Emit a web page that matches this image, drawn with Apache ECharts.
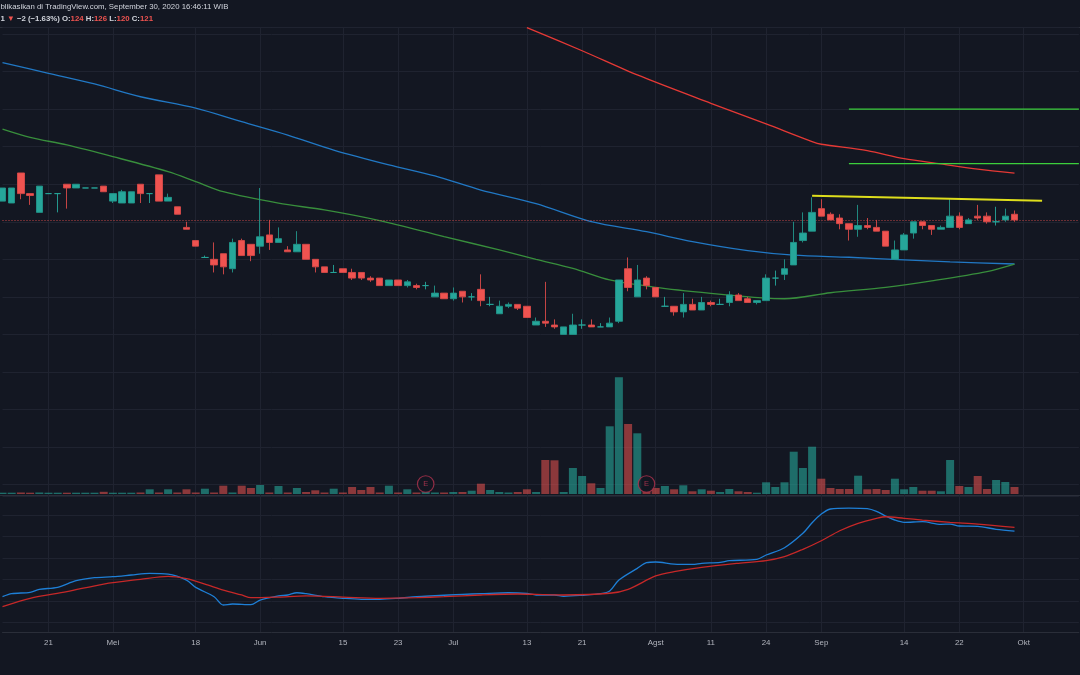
<!DOCTYPE html>
<html><head><meta charset="utf-8">
<script src="https://cdn.jsdelivr.net/npm/echarts@6/dist/echarts.min.js"></script>
<style>html,body{margin:0;padding:0;background:#131722;}#c{width:1080px;height:675px;}</style>
</head><body><div id="c"></div>
<script>
// ---- data ----
const opens  = [131,130,146,135,125,135,135,140,138,138,138,139,131,130,130,140,135,145,131,128,117,110,101,100,103,95,110,108,107,113,109,105,104,108,100,96,93,95,93,93,90,90,86,89,86,86,86,80,82,79,83,80,84,76,71,75,76,75,65,67,65,60,60,65,65,64,64,67,95,80,90,85,75,75,72,76,73,77,76,77,81,79,77,78,90,92,97,110,115,127,124,122,119,116,118,117,115,100,105,114,120,118,116,117,123,119,123,123,120,121,124];
const closes = [138,138,135,134,139,135,135,138,140,138,138,136,135,136,136,135,135,131,133,124,116,107,101,97,96,109,102,102,112,109,111,104,108,100,96,93,93,93,90,90,89,86,89,86,88,85,86,82,79,82,80,80,78,76,75,76,74,69,67,66,64,64,65,65,64,64,66,89,85,89,86,80,75,72,76,73,77,76,76,81,78,77,78,90,90,95,109,114,125,123,121,119,116,118,117,115,107,105,113,120,118,116,117,123,117,121,122,120,120,123,121];
const lows   = [131,130,132,129,125,135,125,127,138,138,138,136,130,130,130,130,130,131,131,124,116,107,101,93,92,93,102,99,103,105,109,104,104,100,93,93,93,93,89,89,88,86,86,86,85,84,84,80,79,78,77,78,75,75,71,74,73,69,65,64,63,60,60,63,64,64,64,66,83,80,84,80,75,70,69,73,73,75,76,75,78,77,76,78,86,89,97,109,115,123,121,116,110,112,116,115,107,100,105,111,116,113,116,117,116,119,121,119,118,120,120];
const highs  = [138,138,146,135,139,135,135,140,140,138,138,139,135,137,136,140,135,145,135,128,120,110,102,109,103,111,111,108,138,121,117,107,115,108,100,96,97,95,95,93,91,90,89,89,89,87,88,86,82,85,83,82,92,80,78,77,76,75,69,88,68,64,71,68,68,66,69,89,101,97,91,85,80,75,82,79,80,78,79,83,82,80,78,92,94,100,120,125,133,132,125,124,119,129,122,121,115,110,114,120,120,118,118,132,125,122,129,125,128,127,126];
const volumes = [1.3,1.3,1.5,1.3,1.5,1.3,1.3,1.3,1.3,1.3,1.3,2.2,1.3,1.3,1.3,1.5,
  4.7,1.5,4.7,1.5,4.7,1.5,5.3,1.5,8.3,1.5,8.3,6,9,1.5,
  8,1.5,6,2,3.7,1.5,5.3,1.5,7,4,
  7,1.5,8.3,1.5,4.7,1.5,2,1.5,1.5,2,
  2,3.3,10.3,4,2,1.5,2,4.7,2,34,
  33.7,2,26,18,10.7,6,67.7,116.7,70,60.7,
  2.5,6,8,4.7,8.7,2.7,4.7,3.3,2,5,
  2.7,2,1.3,11.7,7,11.7,42.3,26,47.3,15.3,
  6,5,5,18.3,4.7,5,4,15.3,4.7,7,
  3.3,3.3,2.7,34,8,7,18,5,14,12,7];
const maBlue  = [[0,204.8],[5,199.1],[10,193.4],[15,186.6],[21,180.5],[26,173.3],[31,166.2],[36,158.2],[42,150.3],[47,144.4],[52,136.9],[58,129.7],[64,120.1],[70,114.7],[75,109.4],[81,104.6],[86,102.2],[92,101.1],[98,99.7],[103,98.6],[110,97.5]];
const maGreen = [[0,169.4],[3,165.0],[7,160.9],[12,154.7],[18,146.7],[21,141.4],[24,136.0],[30,129.9],[35,126.3],[41,120.6],[48,112.1],[54,105.0],[58,100.0],[62,95.2],[66,89.0],[71,85.1],[77,81.9],[83,79.3],[85,79.0],[90,82.2],[96,85.1],[101,88.5],[107,93.4],[110,97.4]];
const maRed   = [[57,223.4],[63,211.1],[69,198.2],[77,183.1],[83,172.1],[88,162.7],[89,161.3],[94,157.9],[98,153.6],[102,150.8],[106,148.0],[110,145.9]];
const macdLine = [[0,0.40],[1,0.68],[3,0.81],[4,1.09],[6,1.27],[8,1.89],[10,2.17],[12,2.26],[14,2.42],[16,2.58],[18,2.51],[20,1.95],[21,1.27],[23,0.40],[24,-0.37],[25,-0.28],[27,-0.34],[28,0.09],[30,0.47],[31,0.56],[32,0.77],[33,0.68],[35,0.40],[37,0.25],[39,0.16],[41,0.16],[43,0.25],[45,0.40],[47,0.49],[50,0.62],[52,0.68],[55,0.77],[57,0.70],[58,0.56],[60,0.56],[61,0.44],[63,0.53],[65,0.68],[66,0.93],[67,1.95],[69,3.04],[70,3.56],[71,3.63],[73,3.44],[75,3.41],[76,3.51],[78,3.60],[79,3.75],[82,3.88],[83,4.28],[85,4.96],[87,6.30],[88,7.28],[89,8.09],[90,8.56],[92,8.65],[94,8.59],[95,8.34],[96,7.91],[97,7.53],[98,7.32],[100,7.38],[102,7.13],[103,7.16],[104,6.98],[106,6.95],[108,6.67],[110,6.51]];
const signalLine = [[0,-0.53],[3,0.25],[7,0.87],[11,1.58],[15,2.02],[18,2.30],[20,2.08],[22,1.58],[24,1.02],[26,0.56],[27,0.31],[30,0.37],[33,0.47],[37,0.37],[41,0.25],[45,0.31],[48,0.40],[52,0.56],[56,0.65],[58,0.62],[61,0.56],[66,0.72],[68,1.09],[71,2.33],[73,2.73],[76,3.13],[80,3.51],[83,3.75],[85,4.12],[87,4.81],[89,5.61],[91,6.54],[93,7.23],[95,7.69],[96,7.84],[98,7.69],[100,7.53],[103,7.32],[106,7.16],[110,6.86]];
const trendLine = [[88,133.8],[113,131.2]];
const levelPrices = [180, 151];
const levelStart = 92;
const earnings = [46, 70];
const tickLabels = [[5,'21'],[12,'Mei'],[21,'18'],[28,'Jun'],[37,'15'],[43,'23'],[49,'Jul'],[57,'13'],[63,'21'],[71,'Agst'],[77,'11'],[83,'24'],[89,'Sep'],[98,'14'],[104,'22'],[111,'Okt']];
const futureBars = 7;

// ---- derived ----
const nBars = opens.length;
const nCat = nBars + futureBars;
const categories = Array.from({length: nCat}, (_, i) => String(i));
const labelMap = new Map(tickLabels);
const last = nBars - 1;
const lastPrice = closes[last];
const chg = closes[last] - closes[last - 1];
const pct = (chg / closes[last - 1] * 100).toFixed(2);
const minus = s => String(s).replace('-', '\u2212');

const BG = '#131722', GRID = '#1f2330', BORDER = '#2a2e39';
const UP = '#26a69a', DOWN = '#ef5350';
const FONT = 'Liberation Sans';
const HF = 7.8;
const L = 2.5, R = 1.1;

const chart = echarts.init(document.getElementById('c'), null, {renderer: 'canvas'});

const hiddenX = gi => ({type: 'category', gridIndex: gi, data: categories, boundaryGap: false, show: false});

const option = {
  animation: false,
  backgroundColor: BG,
  title: [
    {left: 0.5, top: 3.3, padding: 0, text: 'blikasikan di TradingView.com, September 30, 2020 16:46:11 WIB',
     textStyle: {color: '#d1d4dc', fontSize: HF, fontWeight: 'normal', fontFamily: FONT}},
    {left: 0.5, top: 14.4, padding: 0,
     text: `{w|1 }{r|\u25BC}{w| ${minus(chg)} (${minus(pct)}%) O:}{r|${opens[last]}}{w| H:}{r|${highs[last]}}{w| L:}{r|${lows[last]}}{w| C:}{r|${closes[last]}}`,
     textStyle: {fontSize: HF, fontFamily: FONT, rich: {
       w: {color: '#d1d4dc', fontSize: HF, fontFamily: FONT},
       r: {color: DOWN, fontSize: HF, fontFamily: FONT}}}}
  ],
  grid: [
    {left: L, right: R, top: 27, bottom: 42.3},
    {left: L, right: R, top: 27, bottom: 190.4},
    {left: L, right: R, top: 294, bottom: 181},
    {left: L, right: R, top: 496, bottom: 52.5}
  ],
  xAxis: [
    {type: 'category', gridIndex: 0, data: categories, boundaryGap: false,
     axisLine: {show: true, lineStyle: {color: BORDER, width: 1}},
     axisTick: {show: false},
     axisLabel: {show: true, interval: (i) => labelMap.has(i), formatter: (v, i) => labelMap.get(i) || '',
       color: '#b2b5be', fontSize: 7.9, fontFamily: FONT, margin: 6.3},
     splitLine: {show: true, interval: (i) => labelMap.has(i), lineStyle: {color: GRID, width: 1}}},
    hiddenX(1), hiddenX(2), hiddenX(3)
  ],
  yAxis: [
    {type: 'value', gridIndex: 0, min: 0, max: 1, show: false},
    {type: 'value', gridIndex: 1, min: -20, max: 223.75, interval: 20, show: true,
     axisLine: {show: false}, axisTick: {show: false}, axisLabel: {show: false},
     splitLine: {show: true, lineStyle: {color: GRID, width: 1}}},
    {type: 'value', gridIndex: 2, min: 0, max: 200, show: false},
    {type: 'value', gridIndex: 3, min: -2, max: 9.77, interval: 2, show: true,
     axisLine: {show: false}, axisTick: {show: false}, axisLabel: {show: false},
     splitLine: {show: true, lineStyle: {color: GRID, width: 1}}}
  ],
  graphic: [
    {type: 'line', silent: true, z: 0, shape: {x1: 0, y1: 27.5, x2: 1080, y2: 27.5}, style: {stroke: BORDER, lineWidth: 1}},
    {type: 'line', silent: true, z: 0, shape: {x1: 0, y1: 495.5, x2: 1080, y2: 495.5}, style: {stroke: BORDER, lineWidth: 1}}
  ],
  series: [
    {type: 'bar', name: 'Volume', xAxisIndex: 2, yAxisIndex: 2, barWidth: 8, clip: false, z: 1,
     data: volumes.map((v, i) => ({value: v, itemStyle: {color: closes[i] >= opens[i] ? 'rgba(38,166,154,0.6)' : 'rgba(239,83,80,0.55)'}}))},
    {type: 'scatter', name: 'Earnings', xAxisIndex: 2, yAxisIndex: 2, z: 4, silent: true,
     data: earnings.map(i => [i, 0]), symbol: 'circle', symbolSize: 16.5, symbolOffset: [0, -10],
     itemStyle: {color: BG, borderColor: '#b2334f', borderWidth: 1.2},
     label: {show: true, position: 'inside', formatter: 'E', color: '#c03a55', fontSize: 7.5, fontFamily: FONT}},
    {type: 'line', name: 'MA blue', xAxisIndex: 1, yAxisIndex: 1, data: maBlue, showSymbol: false, smooth: 0.3,
     lineStyle: {color: '#2178c4', width: 1.3}, z: 3},
    {type: 'line', name: 'MA green', xAxisIndex: 1, yAxisIndex: 1, data: maGreen, showSymbol: false, smooth: 0.3,
     lineStyle: {color: '#388e3c', width: 1.3}, z: 3},
    {type: 'line', name: 'MA red', xAxisIndex: 1, yAxisIndex: 1, data: maRed, showSymbol: false, smooth: 0.3,
     lineStyle: {color: '#e53935', width: 1.3}, z: 3},
    ...levelPrices.map(p => ({type: 'line', xAxisIndex: 1, yAxisIndex: 1, data: [[levelStart, p], [nCat - 1, p]],
      showSymbol: false, lineStyle: {color: '#3ccf3c', width: 1.4}, z: 3, silent: true})),
    {type: 'line', name: 'Trend', xAxisIndex: 1, yAxisIndex: 1, data: trendLine, showSymbol: false,
     lineStyle: {color: '#dede1c', width: 2}, z: 6, silent: true},
    {type: 'candlestick', name: 'Price', xAxisIndex: 1, yAxisIndex: 1, barWidth: 7, clip: false, z: 5,
     data: opens.map((o, i) => [o, closes[i], lows[i], highs[i]]),
     itemStyle: {color: UP, color0: DOWN, borderColor: '#21958a', borderColor0: '#d84a48', borderColorDoji: UP, borderWidth: 0.9},
     markLine: {silent: true, symbol: 'none', label: {show: false},
       lineStyle: {color: DOWN, type: [1, 2], width: 1, opacity: 0.8}, data: [{yAxis: lastPrice}]}},
    {type: 'line', name: 'MACD', xAxisIndex: 3, yAxisIndex: 3, data: macdLine, showSymbol: false, smooth: 0.3,
     lineStyle: {color: '#1e7fd6', width: 1.3}, z: 3},
    {type: 'line', name: 'Signal', xAxisIndex: 3, yAxisIndex: 3, data: signalLine, showSymbol: false, smooth: 0.3,
     lineStyle: {color: '#c62828', width: 1.3}, z: 3}
  ]
};
chart.setOption(option);
</script>
</body></html>
